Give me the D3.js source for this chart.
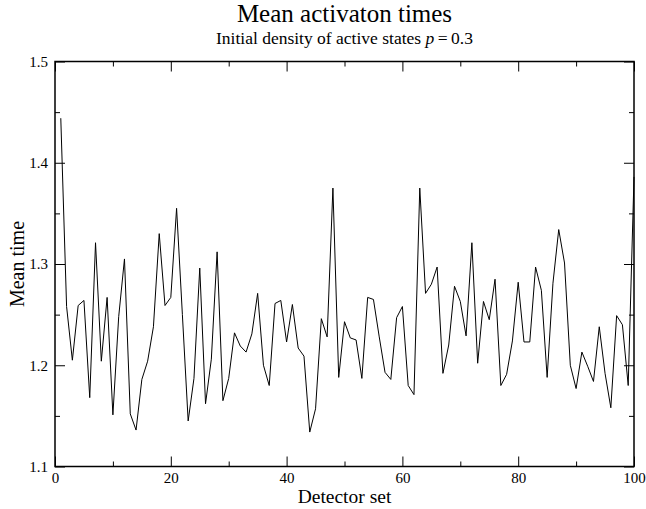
<!DOCTYPE html>
<html>
<head>
<meta charset="utf-8">
<script src="https://cdn.jsdelivr.net/npm/d3@7"></script>
<style>
  body { margin: 0; background: #fff; }
  text { font-family: "Liberation Serif", "Times New Roman", serif; fill: #000; }
</style>
</head>
<body>
<div id="chart"></div>
<script>
var width = 646, height = 509;
var margin = {top: 61.5, right: 12, bottom: 42.5, left: 55}; // plot box 55..634 x 61.5..466.5

// detector set index 1..100
var detectorSets = d3.range(1, 101);
// mean activation time for each detector set
var meanTimes = [
  1.444, 1.258, 1.205, 1.259, 1.264, 1.168, 1.321, 1.204, 1.267, 1.151,
  1.248, 1.305, 1.152, 1.136, 1.186, 1.204, 1.238, 1.330, 1.259, 1.267,
  1.355, 1.250, 1.145, 1.187, 1.296, 1.162, 1.206, 1.312, 1.165, 1.187,
  1.232, 1.219, 1.213, 1.231, 1.271, 1.200, 1.180, 1.261, 1.264, 1.223,
  1.260, 1.217, 1.209, 1.134, 1.157, 1.246, 1.228, 1.375, 1.188, 1.243,
  1.227, 1.225, 1.187, 1.267, 1.265, 1.228, 1.193, 1.186, 1.247, 1.258,
  1.180, 1.171, 1.375, 1.271, 1.280, 1.297, 1.192, 1.220, 1.278, 1.263,
  1.229, 1.321, 1.202, 1.263, 1.245, 1.285, 1.180, 1.191, 1.224, 1.282,
  1.223, 1.223, 1.297, 1.274, 1.188, 1.281, 1.334, 1.301, 1.200, 1.177,
  1.213, 1.199, 1.184, 1.238, 1.192, 1.158, 1.249, 1.240, 1.180, 1.386
];
var xMajorTicks = [0, 20, 40, 60, 80, 100];
var xMinorTicks = [10, 30, 50, 70, 90];
var yMajorTicks = [1.1, 1.2, 1.3, 1.4, 1.5];
var yMinorTicks = [1.15, 1.25, 1.35, 1.45];

var w = width - margin.left - margin.right,
    h = height - margin.top - margin.bottom;

var svg = d3.select('#chart')
    .append('svg')
    .attr('width', width)
    .attr('height', height);

var g = svg.append('g')
    .attr('transform', 'translate(' + margin.left + ',' + margin.top + ')');

var x = d3.scaleLinear().domain([0, 100]).range([0, w]);
var y = d3.scaleLinear().domain([1.1, 1.5]).range([h, 0]);

// inward ticks on all four sides
function styleAxis(sel){
  sel.select('.domain').remove();
  sel.selectAll('line').attr('stroke', '#000').attr('stroke-width', 1);
  sel.selectAll('text').attr('font-size', 15);
}

g.append('g').attr('transform', 'translate(0,' + h + ')')
  .call(d3.axisBottom(x).tickValues(xMajorTicks).tickSizeInner(-10).tickSizeOuter(0).tickPadding(6).tickFormat(d3.format('d')))
  .call(styleAxis);
g.append('g').attr('transform', 'translate(0,' + h + ')')
  .call(d3.axisBottom(x).tickValues(xMinorTicks).tickSizeInner(-5).tickSizeOuter(0).tickFormat(''))
  .call(styleAxis);
g.append('g')
  .call(d3.axisTop(x).tickValues(xMajorTicks).tickSizeInner(-10).tickSizeOuter(0).tickFormat(''))
  .call(styleAxis);
g.append('g')
  .call(d3.axisTop(x).tickValues(xMinorTicks).tickSizeInner(-5).tickSizeOuter(0).tickFormat(''))
  .call(styleAxis);

g.append('g')
  .call(d3.axisLeft(y).tickValues(yMajorTicks).tickSizeInner(-10).tickSizeOuter(0).tickPadding(7).tickFormat(d3.format('.1f')))
  .call(styleAxis);
g.append('g')
  .call(d3.axisLeft(y).tickValues(yMinorTicks).tickSizeInner(-5).tickSizeOuter(0).tickFormat(''))
  .call(styleAxis);
g.append('g').attr('transform', 'translate(' + w + ',0)')
  .call(d3.axisRight(y).tickValues(yMajorTicks).tickSizeInner(-10).tickSizeOuter(0).tickFormat(''))
  .call(styleAxis);
g.append('g').attr('transform', 'translate(' + w + ',0)')
  .call(d3.axisRight(y).tickValues(yMinorTicks).tickSizeInner(-5).tickSizeOuter(0).tickFormat(''))
  .call(styleAxis);

// frame
g.append('rect')
  .attr('width', w)
  .attr('height', h)
  .attr('fill', 'none')
  .attr('stroke', '#000')
  .attr('stroke-width', 1.5);

var line = d3.line()
  .x(function(d, i){ return x(detectorSets[i]); })
  .y(function(d){ return y(d); });

g.append('path')
  .datum(meanTimes)
  .attr('d', line)
  .attr('fill', 'none')
  .attr('stroke', '#000')
  .attr('stroke-width', 1);

// titles
svg.append('text')
  .attr('x', margin.left + w / 2)
  .attr('y', 22)
  .attr('text-anchor', 'middle')
  .attr('font-size', 25)
  .text('Mean activaton times');

var sub = svg.append('text')
  .attr('x', margin.left + w / 2)
  .attr('y', 44)
  .attr('text-anchor', 'middle')
  .attr('font-size', 17.5);
sub.append('tspan').text('Initial density of active states ');
sub.append('tspan').attr('font-style', 'italic').text('p');
sub.append('tspan').text('\u2009=\u20090.3');

svg.append('text')
  .attr('x', margin.left + w / 2)
  .attr('y', 503)
  .attr('text-anchor', 'middle')
  .attr('font-size', 19.5)
  .text('Detector set');

svg.append('text')
  .attr('transform', 'translate(24,' + (margin.top + h / 2) + ') rotate(-90)')
  .attr('text-anchor', 'middle')
  .attr('font-size', 20)
  .text('Mean time');
</script>
</body>
</html>
